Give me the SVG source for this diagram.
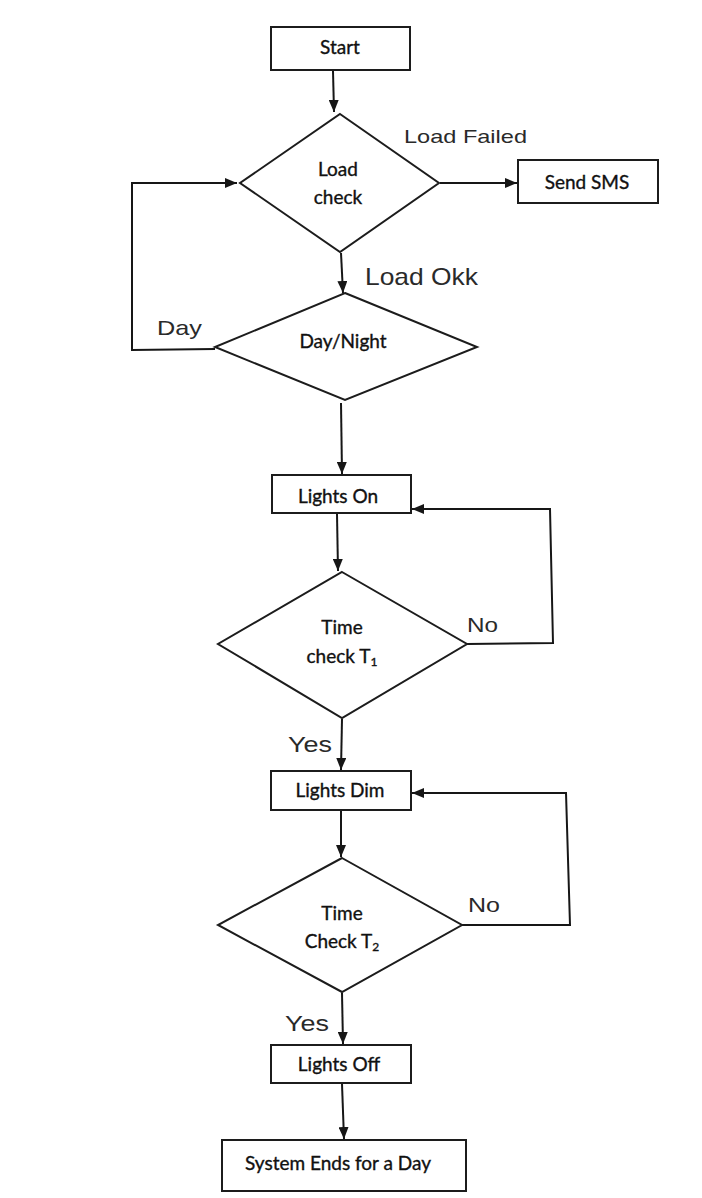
<svg xmlns="http://www.w3.org/2000/svg" width="702" height="1198" viewBox="0 0 702 1198">
<defs>
<marker id="ah" viewBox="0 0 12 10" refX="12" refY="5" markerWidth="12" markerHeight="10" markerUnits="userSpaceOnUse" orient="auto">
<path d="M0,0 L12,5 L0,10 z" fill="#161616"/>
</marker>
<style>
.shape{fill:#ffffff;stroke:#1c1c1c;stroke-width:2}
.conn{fill:none;stroke:#161616;stroke-width:2}
.arr{marker-end:url(#ah)}
.nt{font-family:Lato,"Open Sans",sans-serif;font-size:19px;fill:#111111;stroke:#111111;stroke-width:0.35;text-anchor:middle}
.lb{font-family:"Liberation Sans",Arial,sans-serif;fill:#2a2a2a}
</style>
</defs>
<rect width="702" height="1198" fill="#ffffff"/>

<g id="connectors">
<line class="conn arr" x1="333" y1="71" x2="334" y2="112"/>
<line class="conn arr" x1="440" y1="183" x2="517" y2="183"/>
<line class="conn arr" x1="341" y1="253" x2="343" y2="293"/>
<polyline class="conn arr" points="215,349 132,350 132,183 237,183"/>
<line class="conn arr" x1="341" y1="403" x2="342" y2="474"/>
<line class="conn arr" x1="337" y1="514" x2="338" y2="571"/>
<polyline class="conn arr" points="467,644 553,643 550,509 412,509"/>
<line class="conn arr" x1="342" y1="719" x2="341" y2="770"/>
<line class="conn arr" x1="341" y1="811" x2="341" y2="857"/>
<polyline class="conn arr" points="462,925 570,925 566,793 412,793"/>
<line class="conn arr" x1="342" y1="993" x2="343" y2="1044"/>
<line class="conn arr" x1="342" y1="1084" x2="344" y2="1139"/>
</g>

<g id="start">
<rect class="shape" x="271" y="27" width="139" height="43"/>
<text class="nt" x="340" y="54">Start</text>
</g>

<g id="load-check">
<polygon class="shape" points="340,114 439,183 340,252 240,183"/>
<text class="nt" x="338" y="176">Load</text>
<text class="nt" x="338" y="204">check</text>
</g>

<g id="send-sms">
<rect class="shape" x="518" y="160" width="140" height="43"/>
<text class="nt" x="587" y="189">Send SMS</text>
</g>

<g id="day-night">
<polygon class="shape" points="345,293 477,347 345,400 215,347"/>
<text class="nt" x="343" y="348">Day/Night</text>
</g>

<g id="lights-on">
<rect class="shape" x="272" y="475" width="139" height="38"/>
<text class="nt" x="338" y="503">Lights On</text>
</g>

<g id="time-check-t1">
<polygon class="shape" points="342,572 467,644 342,718 218,644"/>
<text class="nt" x="342" y="634">Time</text>
<text class="nt" x="342" y="663">check T<tspan font-size="12" dy="3">1</tspan></text>
</g>

<g id="lights-dim">
<rect class="shape" x="271" y="771" width="140" height="39"/>
<text class="nt" x="340" y="797">Lights Dim</text>
</g>

<g id="time-check-t2">
<polygon class="shape" points="342,858 462,925 342,992 218,925"/>
<text class="nt" x="342" y="920">Time</text>
<text class="nt" x="342" y="948">Check T<tspan font-size="12" dy="3">2</tspan></text>
</g>

<g id="lights-off">
<rect class="shape" x="271" y="1045" width="140" height="38"/>
<text class="nt" x="339" y="1071">Lights Off</text>
</g>

<g id="system-ends">
<rect class="shape" x="222" y="1140" width="244" height="51"/>
<text class="nt" x="338" y="1170">System Ends for a Day</text>
</g>

<g id="labels">
<text class="lb" x="404" y="143" font-size="19" textLength="123" lengthAdjust="spacingAndGlyphs">Load Failed</text>
<text class="lb" x="365" y="285" font-size="24" textLength="113" lengthAdjust="spacingAndGlyphs">Load Okk</text>
<text class="lb" x="157" y="335" font-size="21" textLength="45" lengthAdjust="spacingAndGlyphs">Day</text>
<text class="lb" x="467" y="632" font-size="21" textLength="31" lengthAdjust="spacingAndGlyphs">No</text>
<text class="lb" x="288" y="752" font-size="22" textLength="44" lengthAdjust="spacingAndGlyphs">Yes</text>
<text class="lb" x="468" y="912" font-size="21" textLength="32" lengthAdjust="spacingAndGlyphs">No</text>
<text class="lb" x="285" y="1031" font-size="22" textLength="44" lengthAdjust="spacingAndGlyphs">Yes</text>
</g>
</svg>
